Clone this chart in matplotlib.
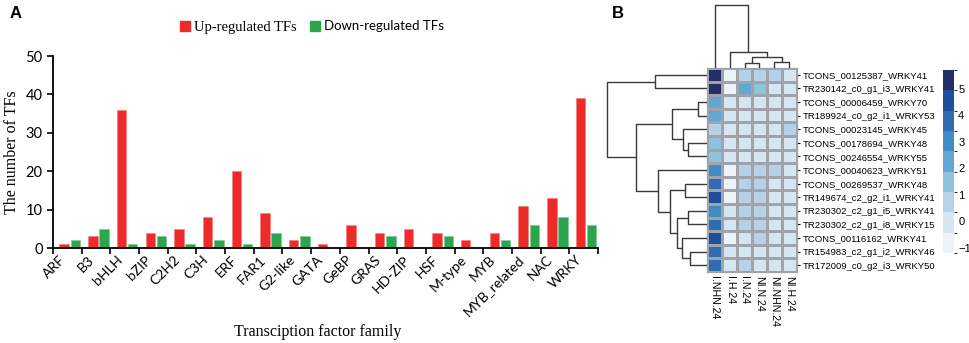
import numpy as np
import matplotlib
matplotlib.use('Agg')
import matplotlib.pyplot as plt
from matplotlib.colors import ListedColormap, BoundaryNorm
from matplotlib.patches import Patch

# Panel A data
families = ['ARF', 'B3', 'bHLH', 'bZIP', 'C2H2', 'C3H', 'ERF', 'FAR1', 'G2-like',
            'GATA', 'GeBP', 'GRAS', 'HD-ZIP', 'HSF', 'M-type', 'MYB',
            'MYB_related', 'NAC', 'WRKY']
up_tfs = [1, 3, 36, 4, 5, 8, 20, 9, 2, 1, 6, 4, 5, 4, 2, 4, 11, 13, 39]
down_tfs = [2, 5, 1, 3, 1, 2, 1, 4, 3, 0, 0, 3, 0, 3, 0, 2, 6, 8, 6]

# Panel B data
row_labels = ['TCONS_00125387_WRKY41', 'TR230142_c0_g1_i3_WRKY41',
              'TCONS_00006459_WRKY70', 'TR189924_c0_g2_i1_WRKY53',
              'TCONS_00023145_WRKY45', 'TCONS_00178694_WRKY48',
              'TCONS_00246554_WRKY55', 'TCONS_00040623_WRKY51',
              'TCONS_00269537_WRKY48', 'TR149674_c2_g2_i1_WRKY41',
              'TR230302_c2_g1_i5_WRKY41', 'TR230302_c2_g1_i8_WRKY15',
              'TCONS_00116162_WRKY41', 'TR154983_c2_g1_i2_WRKY46',
              'TR172009_c0_g2_i3_WRKY50']
col_labels = ['I.NHN.24', 'I.H.24', 'I.N.24', 'NI.N.24', 'NI.NHN.24', 'NI.H.24']
heat = [
    [5.4, -0.9, 0.7, 0.7, 0.7, 0.0],
    [5.4, -0.9, 2.3, 1.5, 0.0, 0.0],
    [2.3, 0.0, 0.0, 0.0, 0.0, 0.0],
    [2.3, 0.0, 0.0, 0.0, 0.0, 0.0],
    [0.7, 0.0, 0.0, 0.0, 0.0, 0.7],
    [1.5, 0.0, 0.0, 0.0, 0.0, 0.0],
    [1.5, 0.0, 0.0, 0.0, 0.0, 0.0],
    [3.0, -0.9, 0.7, 0.7, 0.7, 0.0],
    [3.8, -0.9, 0.7, 0.7, 0.0, 0.0],
    [4.6, -0.9, 0.7, 0.7, 0.0, 0.0],
    [3.0, 0.0, 0.7, 0.7, 0.0, 0.0],
    [3.8, 0.0, 0.7, 0.7, 0.0, 0.0],
    [4.6, -0.9, 0.0, 0.7, 0.0, 0.0],
    [3.8, 0.0, 0.0, 0.0, 0.0, 0.0],
    [3.8, 0.0, 0.7, 0.0, 0.0, 0.0],
]
# dendrograms: (merge height, left, right), leaves are row/col indices
row_tree = (100, (52, 0, 1),
            (71, (35, (9, 2, 3), (24, 4, (19, 5, 6))),
             (49, 7, (37, (22, 8, 9),
                      (30, (19, 10, 11), (25, 12, (17, 13, 14)))))))
col_tree = (63, 0, (16, 1, (11, (5, 2, 3), (6, 4, 5))))

W, H = 969, 343
fig = plt.figure(figsize=(W / 100, H / 100), dpi=100)


def box(x0, y0, x1, y1):
    return [x0 / W, 1 - y1 / H, (x1 - x0) / W, (y1 - y0) / H]


serif = 'Liberation Serif'
sans = 'Lato'
arial = 'Liberation Sans'

# ---------------- Panel A ----------------
ax = fig.add_axes(box(53, 56, 598, 248))
x = np.arange(len(families))
ax.bar(x + 0.39, up_tfs, width=0.33, color='#ee2a2a', edgecolor='#f47a7a', lw=0.4)
ax.bar(x + 0.78, down_tfs, width=0.33, color='#2ca64e', edgecolor='#78c890', lw=0.4)
ax.set_xlim(0, len(families))
ax.set_ylim(0, 50)
ax.set_yticks(range(0, 51, 10))
ax.set_xticks(np.arange(len(families) + 1))
ax.set_xticklabels([])
ax.set_xticks(x + 0.5, minor=True)
ax.set_xticklabels(families, minor=True, rotation=45, ha='right', va='top',
                   fontsize=10, family=sans)
ax.tick_params(axis='x', which='minor', length=0, pad=4)
ax.tick_params(axis='x', which='major', length=4, width=1.2, direction='out')
ax.tick_params(axis='y', length=4, width=1.2, labelsize=10.5)
for t in ax.get_yticklabels():
    t.set_family(sans)
for s in ['top', 'right']:
    ax.spines[s].set_visible(False)
for s in ['left', 'bottom']:
    ax.spines[s].set_linewidth(1.3)
ax.set_ylabel('The number of TFs', family=serif, fontsize=11.5, labelpad=4)
fig.text(318 / W, 1 - 332 / H, 'Transciption factor family', family=serif,
         fontsize=11.5, ha='center', va='center')

leg = fig.legend(handles=[Patch(color='#ee2a2a', label='Up-regulated TFs'),
                          Patch(color='#2ca64e', label='Down-regulated TFs')],
                 loc='center', bbox_to_anchor=(312 / W, 1 - 27 / H), ncol=2,
                 frameon=False, handlelength=0.7, handleheight=0.7,
                 handletextpad=0.3, columnspacing=1.0, borderpad=0)
leg.get_texts()[0].set_family(serif)
leg.get_texts()[0].set_fontsize(10.5)
leg.get_texts()[1].set_family(sans)
leg.get_texts()[1].set_fontsize(9.5)

fig.text(10 / W, 1 - 14 / H, 'A', fontsize=12, weight='bold', family=arial,
         va='center')
fig.text(612 / W, 1 - 14 / H, 'B', fontsize=12, weight='bold', family=arial,
         va='center')

# ---------------- Panel B ----------------
bounds = np.linspace(-1.2, 5.72, 10)
colors = ['#eef3fa', '#d5e5f2', '#b6d1e8', '#8ec2de', '#62a6d2',
          '#428cc3', '#2e6db1', '#1e4f9c', '#232f67']
cmap = ListedColormap(colors)
norm = BoundaryNorm(bounds, cmap.N)

nr, nc = len(row_labels), len(col_labels)
hx = fig.add_axes(box(707, 68, 797, 272))
mesh = hx.pcolormesh(np.array(heat), cmap=cmap, norm=norm,
                     edgecolors='#a0a4aa', linewidth=0.9)
hx.set_xlim(0, nc)
hx.set_ylim(nr, 0)
hx.yaxis.tick_right()
hx.set_yticks(np.arange(nr) + 0.5)
hx.set_yticklabels(row_labels, family=arial, fontsize=6.8)
hx.set_xticks(np.arange(nc) + 0.5)
hx.set_xticklabels(col_labels, family=arial, fontsize=7.6, rotation=270)
hx.tick_params(axis='y', length=2, pad=2)
hx.tick_params(axis='x', length=0, pad=3)
for s in hx.spines.values():
    s.set_color('#a0a4aa')
    s.set_linewidth(0.9)


def draw_tree(axd, node, orient):
    # returns (position, height) of the node
    if isinstance(node, int):
        return node + 0.5, 0
    h, a, b = node
    pa, ha = draw_tree(axd, a, orient)
    pb, hb = draw_tree(axd, b, orient)
    hs = [ha, h, h, hb]
    ps = [pa, pa, pb, pb]
    if orient == 'row':
        axd.plot(hs, ps, color='#3a3a3a', lw=1.0, solid_capstyle='butt')
    else:
        axd.plot(ps, hs, color='#3a3a3a', lw=1.0, solid_capstyle='butt')
    return (pa + pb) / 2, h


rd = fig.add_axes(box(605, 68, 707, 272))
draw_tree(rd, row_tree, 'row')
rd.set_xlim(102, 0)
rd.set_ylim(nr, 0)
rd.axis('off')

cd = fig.add_axes(box(707, 3, 797, 68))
draw_tree(cd, col_tree, 'col')
cd.set_xlim(0, nc)
cd.set_ylim(0, 65)
cd.axis('off')

cax = fig.add_axes(box(943, 70, 954, 253))
cb = fig.colorbar(mesh, cax=cax, ticks=range(-1, 6))
cb.outline.set_visible(False)
cb.ax.tick_params(length=0, labelsize=8, pad=3)
cb.ax.set_yticklabels(['\u22121', '0', '1', '2', '3', '4', '5'], family=arial)

fig.savefig('out.png', dpi=100)
